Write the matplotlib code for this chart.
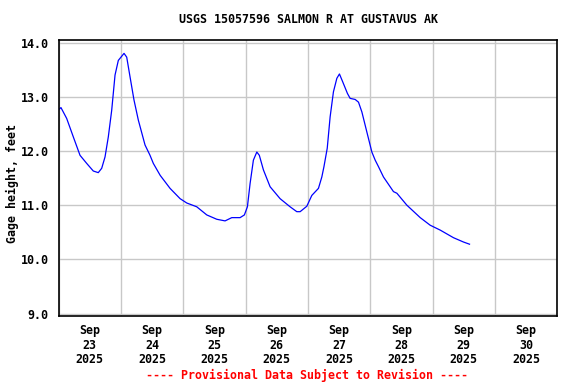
import matplotlib

matplotlib.use("Agg")
import matplotlib.dates as mdates
import matplotlib.pyplot as plt
import pandas as pd

# gage height readings (feet)
times = [
    "2025-09-23 00:00", "2025-09-23 00:55", "2025-09-23 03:07", "2025-09-23 05:40",
    "2025-09-23 08:15", "2025-09-23 10:50", "2025-09-23 13:22", "2025-09-23 15:17",
    "2025-09-23 16:36", "2025-09-23 17:53", "2025-09-23 19:09", "2025-09-23 20:27",
    "2025-09-23 21:44", "2025-09-23 23:00", "2025-09-24 01:12", "2025-09-24 02:14",
    "2025-09-24 03:30", "2025-09-24 05:02", "2025-09-24 06:42", "2025-09-24 09:17",
    "2025-09-24 11:12", "2025-09-24 12:29", "2025-09-24 15:07", "2025-09-24 18:55",
    "2025-09-24 22:47", "2025-09-25 01:21", "2025-09-25 05:12", "2025-09-25 09:03",
    "2025-09-25 12:54", "2025-09-25 16:06", "2025-09-25 18:41", "2025-09-25 21:53",
    "2025-09-25 23:32", "2025-09-26 00:42", "2025-09-26 01:44", "2025-09-26 03:00",
    "2025-09-26 04:19", "2025-09-26 05:17", "2025-09-26 06:52", "2025-09-26 09:26",
    "2025-09-26 13:17", "2025-09-26 17:08", "2025-09-26 19:43", "2025-09-26 21:00",
    "2025-09-26 23:34", "2025-09-27 01:30", "2025-09-27 04:03", "2025-09-27 05:21",
    "2025-09-27 06:10", "2025-09-27 07:26", "2025-09-27 08:33", "2025-09-27 09:49",
    "2025-09-27 11:08", "2025-09-27 12:08", "2025-09-27 13:26", "2025-09-27 15:13",
    "2025-09-27 16:15", "2025-09-27 18:11", "2025-09-27 19:28", "2025-09-27 20:46",
    "2025-09-27 22:41", "2025-09-28 00:37", "2025-09-28 01:54", "2025-09-28 03:10",
    "2025-09-28 05:05", "2025-09-28 08:56", "2025-09-28 10:15", "2025-09-28 14:05",
    "2025-09-28 19:14", "2025-09-28 23:04", "2025-09-29 02:56", "2025-09-29 08:02",
    "2025-09-29 11:54", "2025-09-29 14:13",
]
gage_ft = [
    12.76, 12.80, 12.60, 12.26,
    11.92, 11.77, 11.63, 11.60,
    11.68, 11.89, 12.26, 12.75,
    13.40, 13.67, 13.80, 13.73,
    13.37, 12.94, 12.57, 12.11,
    11.92, 11.77, 11.55, 11.31,
    11.12, 11.04, 10.97, 10.82,
    10.74, 10.71, 10.77, 10.77,
    10.82, 10.97, 11.40, 11.83,
    11.98, 11.92, 11.65, 11.34,
    11.12, 10.97, 10.88, 10.88,
    10.98, 11.18, 11.31, 11.52,
    11.71, 12.05, 12.63, 13.09,
    13.34, 13.42, 13.27, 13.06,
    12.97, 12.95, 12.90, 12.72,
    12.35, 11.98, 11.83, 11.71,
    11.52, 11.25, 11.22, 11.00,
    10.77, 10.63, 10.54, 10.40,
    10.32, 10.28,
]
y_ticks = [9.0, 10.0, 11.0, 12.0, 13.0, 14.0]

title = "USGS 15057596 SALMON R AT GUSTAVUS AK"
ylabel = "Gage height, feet"
footer = "---- Provisional Data Subject to Revision ----"

FONT = dict(family="DejaVu Sans Mono", fontweight="bold", fontsize=8.4)

t = pd.to_datetime(times)

fig = plt.figure(figsize=(5.76, 3.84), dpi=100)
ax = fig.add_axes([0.1017, 0.177, 0.8658, 0.720])

ax.plot(t, gage_ft, color="#0000ff", lw=0.9)

ax.set_xlim(pd.Timestamp("2025-09-23"), pd.Timestamp("2025-10-01"))
ax.set_ylim(8.955, 14.055)

# day labels sit at noon, grid lines at midnight
ax.xaxis.set_major_locator(mdates.HourLocator(byhour=[12]))
ax.xaxis.set_major_formatter(mdates.DateFormatter("%b\n%d\n%Y"))
ax.xaxis.set_minor_locator(mdates.DayLocator())
ax.set_yticks(y_ticks)
ax.set_yticklabels([f"{v:.1f}" for v in y_ticks])

ax.grid(True, which="minor", axis="x", color="#c8c8c8", lw=1.0)
ax.grid(True, which="major", axis="y", color="#c8c8c8", lw=1.0)
ax.set_axisbelow(True)
ax.tick_params(which="both", length=0)
ax.tick_params(axis="x", pad=6)
ax.tick_params(axis="y", pad=7)

for lbl in ax.get_xticklabels() + ax.get_yticklabels():
    lbl.set_fontfamily(FONT["family"])
    lbl.set_fontweight(FONT["fontweight"])
    lbl.set_fontsize(FONT["fontsize"])
    lbl.set_linespacing(1.15)

for sp in ax.spines.values():
    sp.set_linewidth(1.2)
    sp.set_color("black")

fig.text(0.022, 0.523, ylabel, rotation=90, ha="center", va="center", **FONT)
fig.text(0.535, 0.948, title, ha="center", va="center", **FONT)
fig.text(0.533, 0.023, footer, ha="center", va="center", color="red", **FONT)

fig.savefig("out.png", dpi=100, facecolor="white")
